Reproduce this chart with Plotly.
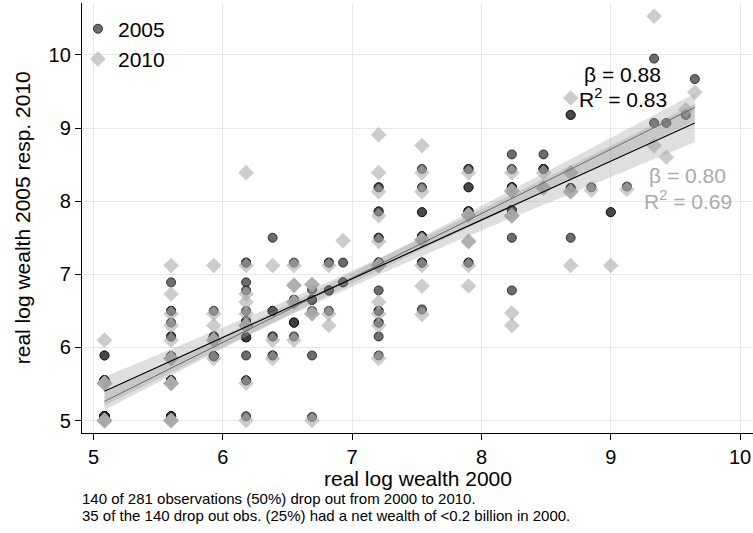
import numpy as np
import plotly.graph_objects as go

FONT = "Liberation Sans, Arial, sans-serif"

# ---- data ----
# columns of real log wealth in 2000 (x positions of the stacked observations)
x_cols = [5.085, 5.60, 5.93, 6.18, 6.385, 6.55, 6.69, 6.82, 6.93, 7.205, 7.54,
          7.90, 8.235, 8.48, 8.69, 8.85, 9.0, 9.125, 9.335, 9.43, 9.58, 9.65]

# real log wealth 2005 for each column (repeated values = stacked observations)
y2005_cols = [
    [5.89]*2 + [5.55]*7 + [5.06]*12,
    [6.89] + [6.50]*2 + [6.34] + [6.15]*2 + [5.88]*6 + [5.55]*8 + [5.06]*7,
    [6.50] + [6.15]*4 + [5.88]*5,
    [7.16]*2 + [6.89, 6.78, 6.50] + [6.36]*3 + [6.14]*6 + [5.89] + [5.55]*2 + [5.06],
    [7.50] + [6.50]*4 + [6.15]*2 + [5.89]*2,
    [7.16] + [6.65]*4 + [6.34]*3 + [6.15],
    [6.79] + [6.65]*3 + [6.50, 5.89, 5.05],
    [7.16]*2 + [6.78]*3 + [6.50],
    [7.16] + [6.89]*2,
    [8.19]*2 + [7.86]*2 + [7.50]*2 + [7.16]*5 + [6.78] + [6.50]*2 + [6.34]*2 + [6.15, 5.89],
    [8.44, 8.19] + [7.85]*2 + [7.52]*5 + [7.16]*3 + [6.52],
    [8.44]*2 + [8.19]*2 + [7.86]*5 + [7.16]*2,
    [8.64, 8.44] + [8.19]*4 + [7.88]*3 + [7.50, 6.78],
    [8.64] + [8.44]*3,
    [9.18]*2 + [8.18]*2 + [7.50],
    [8.19],
    [7.85]*2,
    [8.20],
    [9.95, 9.07],
    [9.07],
    [9.18],
    [9.67],
]

# real log wealth 2010 for each column
y2010_cols = [
    [6.10] + [5.51]*5 + [5.00]*6,
    [7.12, 6.73, 6.46, 6.30, 6.10] + [5.85]*4 + [5.51]*5 + [5.00]*5,
    [7.12, 6.46, 6.30] + [6.10]*4 + [5.85],
    [8.39, 7.12, 6.73, 6.62, 6.46] + [6.30]*4 + [5.51, 5.00],
    [7.12, 6.10, 5.85],
    [7.12] + [6.85]*3 + [6.62]*3 + [6.10],
    [6.86]*3 + [6.46]*3 + [5.00],
    [7.12, 6.46, 6.30],
    [7.46],
    [8.91, 8.39, 8.13, 7.80, 7.45] + [7.12]*5 + [6.62, 6.46, 6.30, 5.85],
    [8.76, 8.39, 8.13] + [7.47]*4 + [7.12, 6.84, 6.45],
    [8.39] + [7.81]*4 + [7.45]*3 + [7.12, 6.84],
    [8.39] + [8.14]*3 + [7.80]*4 + [6.47, 6.30],
    [8.39] + [8.18]*3,
    [9.41] + [8.39]*2 + [8.13]*3 + [7.12],
    [8.15],
    [7.12],
    [8.16],
    [10.53, 8.76],
    [8.60],
    [9.25],
    [9.49],
]

x_ticks = [5, 6, 7, 8, 9, 10]
y_ticks = [5, 6, 7, 8, 9, 10]
stats_2005 = ["β = 0.88", "R<sup>2</sup> = 0.83"]
stats_2010 = ["β = 0.80", "R<sup>2</sup> = 0.69"]
notes = ["140 of 281 observations (50%) drop out from 2000 to 2010.",
         "35 of the 140 drop out obs. (25%) had a net wealth of <0.2 billion in 2000."]


def flatten(cols_x, cols_y):
    xs, ys = [], []
    for xv, yl in zip(cols_x, cols_y):
        xs += [xv] * len(yl)
        ys += list(yl)
    return xs, ys


x_2005, y_2005 = flatten(x_cols, y2005_cols)
x_2010, y_2010 = flatten(x_cols, y2010_cols)


def lfitci(x, y, t=1.975):
    x = np.asarray(x, float)
    y = np.asarray(y, float)
    n = len(x)
    b, a = np.polyfit(x, y, 1)
    res = y - (a + b * x)
    s = np.sqrt((res ** 2).sum() / (n - 2))
    xbar = x.mean()
    sxx = ((x - xbar) ** 2).sum()
    xs = np.linspace(x.min(), x.max(), 80)
    yh = a + b * xs
    se = s * np.sqrt(1.0 / n + (xs - xbar) ** 2 / sxx)
    return xs, yh, yh - t * se, yh + t * se


fig = go.Figure()

fig.add_trace(go.Scatter(
    x=x_2005, y=y_2005, mode="markers", name="2005",
    marker=dict(symbol="circle", size=9, color="rgba(60,60,60,0.75)",
                line=dict(color="rgba(20,20,20,0.8)", width=1))))
fig.add_trace(go.Scatter(
    x=x_2010, y=y_2010, mode="markers", name="2010",
    marker=dict(symbol="diamond", size=12, color="rgba(170,170,170,0.6)",
                line=dict(width=0))))

for xv, yv, lc, lw in [(x_2005, y_2005, "#555555", 1.0), (x_2010, y_2010, "#000000", 1.2)]:
    xs, yh, lo, hi = lfitci(xv, yv)
    fig.add_trace(go.Scatter(
        x=np.concatenate([xs, xs[::-1]]), y=np.concatenate([hi, lo[::-1]]),
        mode="lines", fill="toself", fillcolor="rgba(150,150,150,0.3)",
        line=dict(width=0), hoverinfo="skip", showlegend=False))
    fig.add_trace(go.Scatter(x=xs, y=yh, mode="lines",
                             line=dict(color=lc, width=lw), showlegend=False))

stat_ann = [
    (0.805, 0.834, stats_2005[0], "#000000"),
    (0.806, 0.779, stats_2005[1], "#000000"),
    (0.903, 0.598, stats_2010[0], "#aaaaaa"),
    (0.903, 0.543, stats_2010[1], "#aaaaaa"),
]
for ax, ay, txt, col in stat_ann:
    fig.add_annotation(x=ax, y=ay, xref="paper", yref="paper", text=txt,
                       showarrow=False, xanchor="center", yanchor="middle",
                       font=dict(family=FONT, size=21, color=col))

# axis titles
fig.add_annotation(x=0.5, y=-0.1065, xref="paper", yref="paper", text="real log wealth 2000",
                   showarrow=False, xanchor="center", yanchor="middle",
                   font=dict(family=FONT, size=21, color="black"))
fig.add_annotation(x=-0.089, y=0.5, xref="paper", yref="paper",
                   text="real log wealth 2005 resp. 2010", textangle=-90,
                   showarrow=False, xanchor="center", yanchor="middle",
                   font=dict(family=FONT, size=21, color="black"))
# notes
for i, txt in enumerate(notes):
    fig.add_annotation(x=0.0, y=-0.1527 - 0.0385 * i, xref="paper", yref="paper", text=txt,
                       showarrow=False, xanchor="left", yanchor="middle", xshift=-2,
                       font=dict(family=FONT, size=15, color="black"))

axis_common = dict(showgrid=True, gridcolor="#e8e8e8", gridwidth=1.2, zeroline=False,
                   showline=True, linecolor="black", linewidth=1.3,
                   ticks="outside", ticklen=6, tickcolor="black", tickwidth=1.2,
                   tickfont=dict(family=FONT, size=20, color="black"))

fig.update_layout(
    width=753, height=533,
    margin=dict(l=81.5, r=0, t=3, b=99.7),
    paper_bgcolor="white", plot_bgcolor="white",
    font=dict(family=FONT, color="black"),
    xaxis=dict(range=[4.911, 10.10], tickvals=x_ticks, **axis_common),
    yaxis=dict(range=[4.83, 10.71], tickvals=y_ticks, **axis_common),
    legend=dict(x=-0.006, y=0.987, xanchor="left", yanchor="top",
                bgcolor="rgba(0,0,0,0)", font=dict(family=FONT, size=21, color="black"),
                tracegroupgap=0),
    showlegend=True,
)

fig.write_html("out.html")
